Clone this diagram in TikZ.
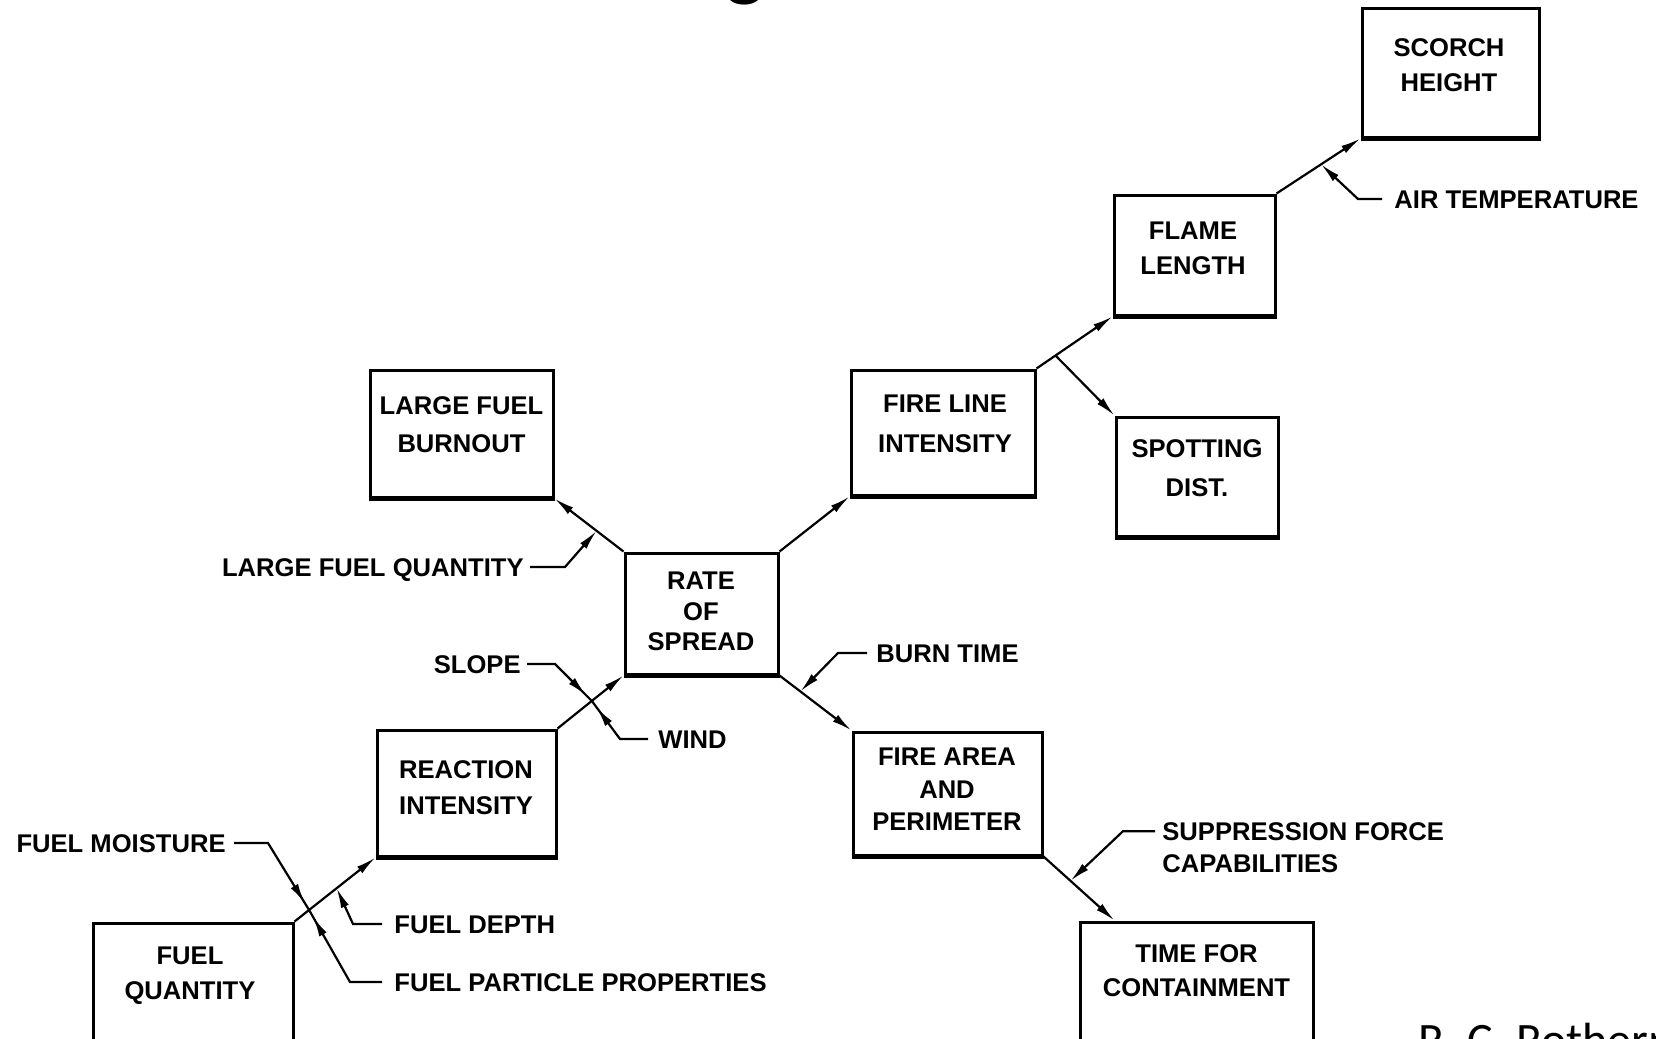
\documentclass[tikz,border=0pt]{standalone}
\usepackage{fontspec}
\setmainfont{Liberation Sans}
\newfontfamily\credfont{Carlito}
\usetikzlibrary{arrows.meta,calc,decorations.markings}
\begin{document}
\begin{tikzpicture}[x=0.5pt,y=-0.5pt,
  box/.style={draw, line width=1.5pt, inner sep=0pt},
  btxt/.style={font=\bfseries\fontsize{12.8}{18}\selectfont, align=center, inner sep=0pt},
  ltxt/.style={font=\bfseries\fontsize{12.8}{16}\selectfont, inner sep=0pt, text height=9.2pt, text depth=0pt},
  stxt/.style={font=\bfseries\fontsize{12.8}{16}\selectfont, inner sep=0pt, align=left},
  conn/.style={line width=1.1pt, -{Latex[length=10pt,width=4.2pt]}},
  lead/.style={line width=1.1pt, -{Latex[length=10pt,width=4.2pt]}},
  crosslead/.style={line width=1.1pt, postaction={decorate},
    decoration={markings, mark=at position -4pt with {\arrow{Latex[length=10pt,width=4.2pt]}}}},
  bottomedge/.style={line width=2.8pt}
]
\useasboundingbox (0,0) rectangle (1656,1039);
\clip (0,0) rectangle (1656,1039);
\fill[white] (0,0) rectangle (1656,1039);

% boxes
\node[box, minimum width=88.5pt, minimum height=64.5pt] (scorch) at (1450.5,72.5) {};
\node[box, minimum width=80.5pt, minimum height=60pt] (flame) at (1194.5,255) {};
\node[box, minimum width=92pt, minimum height=62.5pt] (fireline) at (943,432.5) {};
\node[box, minimum width=81pt, minimum height=59.5pt] (spotting) at (1197,476.5) {};
\node[box, minimum width=91.5pt, minimum height=63.5pt] (lfb) at (461.5,433.5) {};
\node[box, minimum width=76.5pt, minimum height=60.5pt] (rate) at (701.5,613.5) {};
\node[box, minimum width=89.5pt, minimum height=63pt] (reaction) at (466.5,793) {};
\node[box, minimum width=94.5pt, minimum height=61.5pt] (firearea) at (947.5,793.5) {};
\node[box, minimum width=100pt, minimum height=76pt] (fuelq) at (193,999) {};
\node[box, minimum width=116.5pt, minimum height=76.5pt] (time) at (1196.5,998.5) {};

\foreach \n in {scorch,flame,fireline,spotting,lfb,rate,reaction,firearea}
  \draw[bottomedge] (\n.south west) -- (\n.south east);

% box texts
\node[btxt, font=\bfseries\fontsize{12.8}{17.75}\selectfont] (scorchT) at (1449,65) {SCORCH\\HEIGHT};
\node[btxt, font=\bfseries\fontsize{12.8}{17.5}\selectfont] (flameT) at (1193,248.5) {FLAME\\LENGTH};
\node[btxt, font=\bfseries\fontsize{12.8}{20}\selectfont] (firelineT) at (945,424) {FIRE LINE\\INTENSITY};
\node[btxt, font=\bfseries\fontsize{12.8}{19.5}\selectfont] (spottingT) at (1197,468.5) {SPOTTING\\DIST.};
\node[btxt, font=\bfseries\fontsize{12.8}{19}\selectfont] (lfbT) at (461.5,424.5) {LARGE FUEL\\BURNOUT};
\node[btxt, font=\bfseries\fontsize{12.8}{15.25}\selectfont] (rateT) at (701,611.5) {RATE\\OF\\SPREAD};
\node[btxt, font=\bfseries\fontsize{12.8}{18}\selectfont] (reactionT) at (466,788) {REACTION\\INTENSITY};
\node[btxt, font=\bfseries\fontsize{12.8}{16.25}\selectfont] (fireareaT) at (947,789.5) {FIRE AREA\\AND\\PERIMETER};
\node[btxt, font=\bfseries\fontsize{12.8}{17.5}\selectfont] (fuelqT) at (190,975.5) {FUEL\\QUANTITY};
\node[btxt, font=\bfseries\fontsize{12.8}{17}\selectfont] (timeT) at (1196.5,971) {TIME FOR\\CONTAINMENT};

% main connectors
\draw[conn] (fuelq.north east) -- (reaction.south west);
\draw[conn] (reaction.north east) -- (rate.south west);
\draw[conn] (rate.north west) -- (lfb.south east);
\draw[conn] (rate.north east) -- (fireline.south west);
\draw[conn] (fireline.north east) -- (flame.south west);
\coordinate (br) at ($(fireline.north east)!0.25!(flame.south west)$);
\draw[conn] (br) -- (spotting.north west);
\draw[conn] (flame.north east) -- (scorch.south west);
\draw[conn] (rate.south east) -- (firearea.north west);
\coordinate (tIn) at ($(time.north west)+(36,0)$);
\draw[conn] (firearea.south east) -- (tIn);

% input labels
\node[ltxt, anchor=west] (air) at (1394,199) {AIR TEMPERATURE};
\node[ltxt, anchor=east] (lfq) at (524,567) {LARGE FUEL QUANTITY};
\node[ltxt, anchor=east] (slope) at (521,664) {SLOPE};
\node[ltxt, anchor=west] (wind) at (658,739) {WIND};
\node[ltxt, anchor=east] (fm) at (226,843) {FUEL MOISTURE};
\node[ltxt, anchor=west] (fd) at (394,924) {FUEL DEPTH};
\node[ltxt, anchor=west] (fpp) at (394,982) {FUEL PARTICLE PROPERTIES};
\node[ltxt, anchor=west] (burn) at (876,653) {BURN TIME};
\node[stxt, anchor=north west] (supp) at (1162,822) {SUPPRESSION FORCE\\CAPABILITIES};

% join points
\coordinate (jAir) at ($(flame.north east)!0.53!(scorch.south west)$);
\coordinate (jLfq) at ($(rate.north west)!0.39!(lfb.south east)$);
\coordinate (X1) at ($(reaction.north east)!0.52!(rate.south west)$);
\coordinate (X2) at ($(fuelq.north east)!0.18!(reaction.south west)$);
\coordinate (jFd) at ($(fuelq.north east)!0.52!(reaction.south west)$);
\coordinate (jBurn) at ($(rate.south east)!0.29!(firearea.north west)$);
\coordinate (jSupp) at ($(firearea.south east)!0.38!(tIn)$);

% leaders
\draw[lead] ([xshift=-6pt]air.west) -- ++(-24,0) -- (jAir);
\draw[lead] ([xshift=3pt]lfq.east) -- ++(35,0) -- (jLfq);
\draw[crosslead] ([xshift=3pt]slope.east) -- ++(28,0) -- (X1);
\draw[crosslead] ([xshift=-5pt]wind.west) -- ++(-28,0) -- (X1);
\draw[crosslead] ([xshift=4pt]fm.east) -- ++(34,0) -- (X2);
\draw[crosslead] ([xshift=-6pt]fpp.west) -- ++(-32,0) -- (X2);
\draw[lead] ([xshift=-6pt]fd.west) -- ++(-29,0) -- (jFd);
\draw[lead] ([xshift=-4.5pt]burn.west) -- ++(-29,0) -- (jBurn);
\draw[lead] ([xshift=-3.5pt,yshift=-4.6pt]supp.north west) -- ++(-32,0) -- (jSupp);

% fragments at the edges
\node[font=\credfont\fontsize{24}{28}\selectfont, anchor=base west, inner sep=0pt] (credit) at (1418,1056) {R. C. Rothermel};
\node[font=\credfont\bfseries\fontsize{40}{44}\selectfont, anchor=south, inner sep=0pt] (title) at (745,5) {g};
\end{tikzpicture}
\end{document}
